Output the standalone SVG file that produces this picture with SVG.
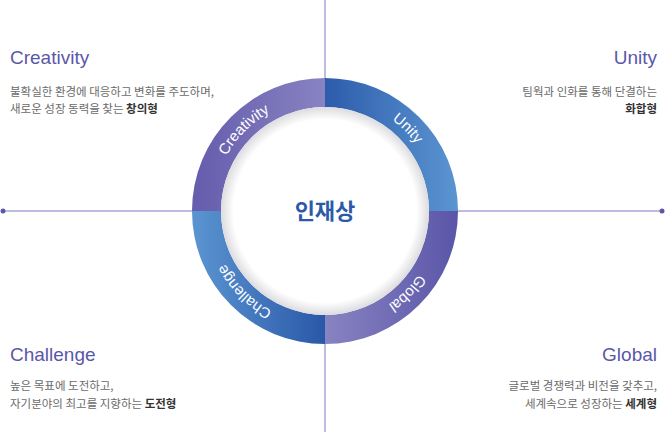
<svg xmlns="http://www.w3.org/2000/svg" width="665" height="432" viewBox="0 0 665 432">
<style>
.t{font-family:"Liberation Sans",Arial,sans-serif;font-size:19px;fill:#5b57a9}
.d{font-family:"Noto Sans CJK KR","Noto Sans",sans-serif;font-size:11.5px;fill:#6b6b6b}
.b{font-weight:bold;fill:#333}
.r{font-family:"Liberation Sans",Arial,sans-serif;font-size:15px;fill:#fff}
.ax{stroke:#7c79c0;stroke-width:1}
</style>
<defs>
<linearGradient id="gTL" x1="192" y1="0" x2="325" y2="0" gradientUnits="userSpaceOnUse"><stop offset="0" stop-color="#655cac"/><stop offset="1" stop-color="#8883c2"/></linearGradient>
<linearGradient id="gTR" x1="325" y1="0" x2="458" y2="0" gradientUnits="userSpaceOnUse"><stop offset="0" stop-color="#2c5cab"/><stop offset="1" stop-color="#5b95d1"/></linearGradient>
<linearGradient id="gBR" x1="325" y1="0" x2="458" y2="0" gradientUnits="userSpaceOnUse"><stop offset="0" stop-color="#8883c2"/><stop offset="1" stop-color="#5a56a8"/></linearGradient>
<linearGradient id="gBL" x1="192" y1="0" x2="325" y2="0" gradientUnits="userSpaceOnUse"><stop offset="0" stop-color="#5b95d1"/><stop offset="1" stop-color="#2a58a8"/></linearGradient>
<radialGradient id="sh" cx="325" cy="211" r="104" gradientUnits="userSpaceOnUse"><stop offset="0.88" stop-color="#fff"/><stop offset="1" stop-color="#dcdce0"/></radialGradient>
<path id="ring" d="M212,211 A113,113 0 1 1 438,211 A113,113 0 1 1 212,211"/>
</defs>
<g id="axes">
<line class="ax" x1="325" y1="0" x2="325" y2="432"/>
<line class="ax" x1="3" y1="211" x2="663" y2="211"/>
<circle cx="3" cy="211" r="2.5" fill="#5b57a9"/><circle cx="662" cy="211" r="2.5" fill="#5b57a9"/>
</g>
<g id="ring-quadrants">
<path d="M192,211 A133,133 0 0 1 325,78 L325,107 A104,104 0 0 0 221,211 Z" fill="url(#gTL)"/>
<path d="M325,78 A133,133 0 0 1 458,211 L429,211 A104,104 0 0 0 325,107 Z" fill="url(#gTR)"/>
<path d="M458,211 A133,133 0 0 1 325,344 L325,315 A104,104 0 0 0 429,211 Z" fill="url(#gBR)"/>
<path d="M325,344 A133,133 0 0 1 192,211 L221,211 A104,104 0 0 0 325,315 Z" fill="url(#gBL)"/>
<circle cx="325" cy="211" r="104" fill="url(#sh)"/>
</g>
<g id="ring-labels" class="r">
<text><textPath href="#ring" startOffset="12.5%" text-anchor="middle">Creativity</textPath></text>
<text><textPath href="#ring" startOffset="37.5%" text-anchor="middle">Unity</textPath></text>
<text><textPath href="#ring" startOffset="62.5%" text-anchor="middle">Global</textPath></text>
<text><textPath href="#ring" startOffset="87.5%" text-anchor="middle">Challenge</textPath></text>
</g>
<g id="center"><text x="325" y="219" text-anchor="middle" font-family="Noto Sans CJK KR,sans-serif" font-weight="bold" font-size="22" fill="#2d5aa8">인재상</text></g>
<g id="creativity">
<text class="t" x="10" y="64">Creativity</text>
<text class="d" x="10" y="96">불확실한 환경에 대응하고 변화를 주도하며,</text>
<text class="d" x="10" y="113">새로운 성장 동력을 찾는 <tspan class="b">창의형</tspan></text>
</g>
<g id="unity" text-anchor="end">
<text class="t" x="657" y="64">Unity</text>
<text class="d" x="657" y="96">팀웍과 인화를 통해 단결하는</text>
<text class="d b" x="657" y="113">화합형</text>
</g>
<g id="challenge">
<text class="t" x="10" y="361">Challenge</text>
<text class="d" x="10" y="390">높은 목표에 도전하고,</text>
<text class="d" x="10" y="408">자기분야의 최고를 지향하는 <tspan class="b">도전형</tspan></text>
</g>
<g id="global" text-anchor="end">
<text class="t" x="657" y="361">Global</text>
<text class="d" x="657" y="390">글로벌 경쟁력과 비전을 갖추고,</text>
<text class="d" x="657" y="408">세계속으로 성장하는 <tspan class="b">세계형</tspan></text>
</g>
</svg>
